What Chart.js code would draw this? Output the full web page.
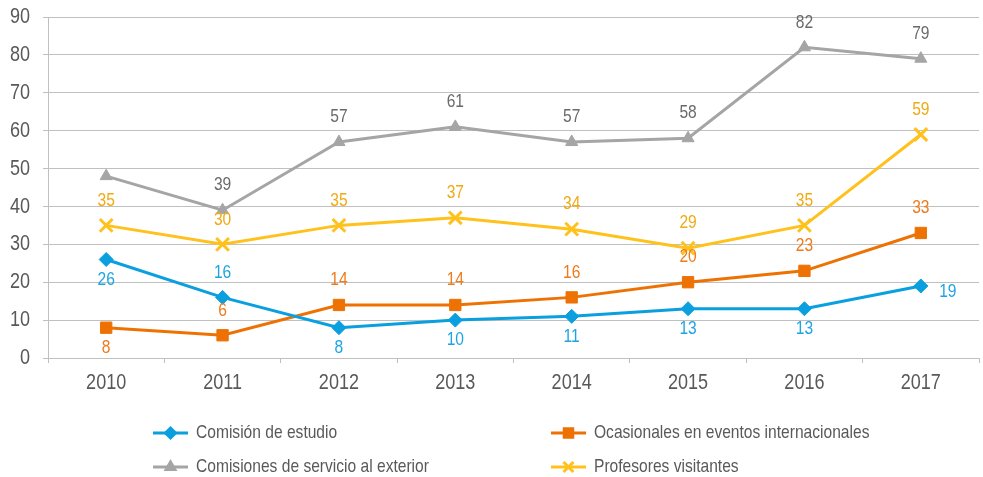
<!DOCTYPE html>
<html lang="es">
<head>
    <meta charset="UTF-8">
    <title>Movilidad docente 2010-2017</title>
    <script src="https://cdn.jsdelivr.net/npm/chart.js"></script>
    <style>
        html, body {
            margin: 0;
            padding: 0;
            background: #ffffff;
            overflow: hidden;
        }

        .chart-box {
            position: absolute;
            left: 0;
            top: 0;
            width: 991px;
            height: 477px;
        }
    </style>
</head>
<body>
    <div class="chart-box">
        <canvas id="movilidadChart" width="991" height="477"></canvas>
    </div>

    <script>
        // data
        const years = ['2010', '2011', '2012', '2013', '2014', '2015', '2016', '2017'];
        const comisionEstudio = [26, 16, 8, 10, 11, 13, 13, 19];
        const ocasionales = [8, 6, 14, 14, 16, 20, 23, 33];
        const comisionesServicio = [48, 39, 57, 61, 57, 58, 82, 79];
        const profesoresVisitantes = [35, 30, 35, 37, 34, 29, 35, 59];

        const FONT = "'Liberation Sans', Arial, sans-serif";
        const NARROW = 0.82; // no Arial Narrow here, squeeze the text instead
        const TEXT = '#595959';
        const GRID = '#c0c0c0';

        // where each value label sits: a = above, b = below, r = right, '' = none
        const datasets = [
            {
                label: 'Comisión de estudio',
                data: comisionEstudio,
                borderColor: '#0a9fdf',
                backgroundColor: '#0a9fdf',
                pointStyle: 'rectRot',
                pointRadius: 7,
                labelColor: '#1ea4e2',
                labelPos: ['b', 'a', 'b', 'b', 'b', 'b', 'b', 'r']
            },
            {
                label: 'Ocasionales en eventos internacionales',
                data: ocasionales,
                borderColor: '#ee7203',
                backgroundColor: '#ee7203',
                pointStyle: 'rect',
                pointRadius: 8,
                labelColor: '#ee7a1c',
                labelPos: ['b', 'a', 'a', 'a', 'a', 'a', 'a', 'a']
            },
            {
                label: 'Comisiones de servicio al exterior',
                data: comisionesServicio,
                borderColor: '#a5a5a5',
                backgroundColor: '#a5a5a5',
                pointStyle: 'triangle',
                pointRadius: 7,
                labelColor: '#6a6a6a',
                labelPos: ['', 'a', 'a', 'a', 'a', 'a', 'a', 'a']
            },
            {
                label: 'Profesores visitantes',
                data: profesoresVisitantes,
                borderColor: '#ffc11c',
                backgroundColor: '#ffc11c',
                pointStyle: 'crossRot',
                pointRadius: 9,
                pointBorderWidth: 3,
                labelColor: '#f0aa12',
                labelPos: ['a', 'a', 'a', 'a', 'a', 'a', 'a', 'a']
            }
        ];

        datasets.forEach(ds => {
            ds.borderWidth = 3;
            ds.tension = 0;
            ds.fill = false;
            ds.pointHoverRadius = ds.pointRadius;
            if (!ds.pointBorderWidth) ds.pointBorderWidth = 1;
        });

        function narrowText(ctx, text, x, y, align) {
            ctx.save();
            ctx.translate(x, y);
            ctx.scale(NARROW, 1);
            ctx.textAlign = align;
            ctx.fillText(text, 0, 0);
            ctx.restore();
        }

        // axis tick labels, drawn by hand so they can be condensed
        const axisLabels = {
            id: 'axisLabels',
            afterDraw(chart) {
                const ctx = chart.ctx;
                const xs = chart.scales.x;
                const ys = chart.scales.y;
                ctx.save();
                ctx.font = '22px ' + FONT;
                ctx.fillStyle = TEXT;
                ctx.textBaseline = 'middle';
                ys.ticks.forEach(t => {
                    narrowText(ctx, String(t.value), ys.right - 18, ys.getPixelForValue(t.value), 'right');
                });
                xs.ticks.forEach((t, i) => {
                    narrowText(ctx, xs.getLabelForValue(t.value), xs.getPixelForValue(t.value), xs.top + 25, 'center');
                });
                ctx.restore();
            }
        };

        // numbers next to the points
        const valueLabels = {
            id: 'valueLabels',
            afterDatasetsDraw(chart) {
                const ctx = chart.ctx;
                ctx.save();
                ctx.font = '19px ' + FONT;
                ctx.textBaseline = 'middle';
                chart.data.datasets.forEach((ds, i) => {
                    const meta = chart.getDatasetMeta(i);
                    ctx.fillStyle = ds.labelColor;
                    meta.data.forEach((pt, j) => {
                        const pos = ds.labelPos[j];
                        if (!pos) return;
                        let x = pt.x;
                        let y = pt.y;
                        if (pos === 'a') y -= 25;
                        else if (pos === 'b') y += 20;
                        else if (pos === 'r') { x += 27; y += 6; }
                        narrowText(ctx, String(Math.round(ds.data[j])), x, y, 'center');
                    });
                });
                ctx.restore();
            }
        };

        // two column legend under the plot
        const gridLegend = {
            id: 'gridLegend',
            afterDraw(chart) {
                const ctx = chart.ctx;
                const cols = [153, 551];
                const rows = [433, 467];
                ctx.save();
                ctx.font = '19px ' + FONT;
                ctx.textBaseline = 'middle';
                chart.data.datasets.forEach((ds, i) => {
                    const x = cols[i % 2];
                    const y = rows[Math.floor(i / 2)];
                    ctx.strokeStyle = ds.borderColor;
                    ctx.fillStyle = ds.backgroundColor;
                    ctx.lineWidth = 3;
                    ctx.beginPath();
                    ctx.moveTo(x, y);
                    ctx.lineTo(x + 35, y);
                    ctx.stroke();
                    Chart.helpers.drawPoint(ctx, {
                        pointStyle: ds.pointStyle,
                        radius: ds.pointRadius - 2,
                        rotation: 0,
                        borderWidth: ds.pointBorderWidth
                    }, x + 17.5, y);
                    ctx.fillStyle = TEXT;
                    narrowText(ctx, ds.label, x + 43, y, 'left');
                });
                ctx.restore();
            }
        };

        const ctx = document.getElementById('movilidadChart').getContext('2d');
        new Chart(ctx, {
            type: 'line',
            data: {
                labels: years,
                datasets: datasets
            },
            options: {
                responsive: false,
                animation: false,
                layout: {
                    padding: { top: 17, right: 0, bottom: 74, left: 0 }
                },
                plugins: {
                    legend: { display: false },
                    tooltip: { enabled: false }
                },
                scales: {
                    x: {
                        offset: true,
                        afterFit: scale => { scale.height = 45; },
                        grid: {
                            offset: true,
                            drawOnChartArea: false,
                            drawTicks: true,
                            tickLength: 5,
                            color: GRID
                        },
                        border: { display: true, color: GRID, width: 1 },
                        ticks: { display: false }
                    },
                    y: {
                        min: 0,
                        max: 90,
                        afterFit: scale => { scale.width = 48; },
                        grid: {
                            color: GRID,
                            lineWidth: 1,
                            drawTicks: true,
                            tickLength: 5
                        },
                        border: { display: true, color: GRID, width: 1 },
                        ticks: { display: false, stepSize: 10 }
                    }
                }
            },
            plugins: [axisLabels, valueLabels, gridLegend]
        });
    </script>
</body>
</html>
